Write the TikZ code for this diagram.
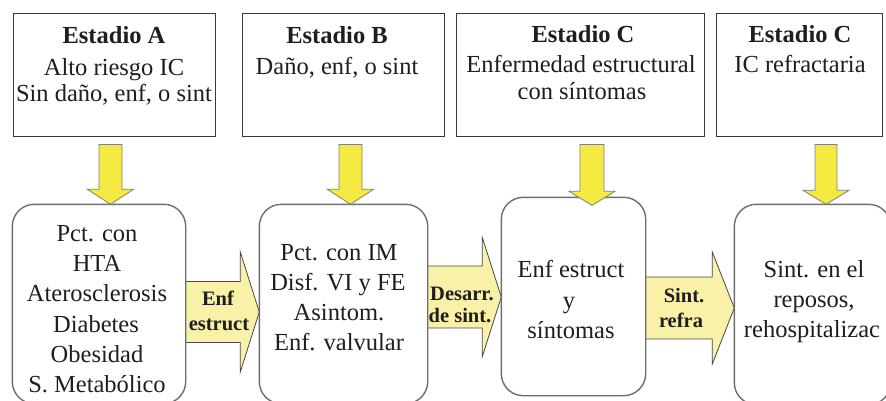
\documentclass[tikz,border=0pt]{standalone}
\usepackage{fontspec}
\setmainfont{Liberation Serif}
\usetikzlibrary{calc}
\definecolor{txt}{HTML}{1E1E1E}
\definecolor{yel}{HTML}{F4EA42}
\definecolor{yelpale}{HTML}{FAF1A8}
\definecolor{boxline}{HTML}{6E6E6E}
\newcommand{\harrow}[6]{%
  \path[horarr] let \p1=(#1), \p2=(#2), \p3=(0,#3) in
   (\x1-3pt,\y3+#4pt) -- (\x2-#6pt,\y3+#4pt) -- (\x2-#6pt,\y3+#5pt) -- (\x2,\y3)
   -- (\x2-#6pt,\y3-#5pt) -- (\x2-#6pt,\y3-#4pt) -- (\x1-3pt,\y3-#4pt) -- cycle;}
\newcommand{\varrow}[7]{%
  \path[downarr] let \p1=(#1), \p2=(#2), \p3=(#3,0) in
   (\x3-#4pt,\y1-8pt) -- (\x3+#4pt,\y1-8pt) -- (\x3+#4pt,\y2+#6pt-#7pt)
   -- (\x3+#5pt,\y2+#6pt-#7pt) -- (\x3,\y2-#7pt) -- (\x3-#5pt,\y2+#6pt-#7pt)
   -- (\x3-#4pt,\y2+#6pt-#7pt) -- cycle;}
\begin{document}
\begin{tikzpicture}[x=1pt,y=-1pt,
  topbox/.style={draw=black!78, line width=0.9pt, fill=white, inner sep=0pt},
  roundbox/.style={draw=boxline, line width=1.4pt, rounded corners=22pt, fill=white, inner sep=0pt},
  ln/.style={anchor=base, inner sep=0pt, text=txt, font=\fontsize{24.5}{29}\selectfont},
  ttl/.style={anchor=base, inner sep=0pt, text=txt, font=\fontsize{24.5}{29}\selectfont\bfseries},
  lbl/.style={anchor=base, inner sep=0pt, text=txt, font=\fontsize{20.5}{22}\selectfont\bfseries},
  downarr/.style={fill=yel, draw=black!50, line width=0.8pt, line join=miter},
  horarr/.style={fill=yelpale, draw=black!72, line width=0.8pt, line join=miter}]
\useasboundingbox (0,0) rectangle (886,401);
\fill[white] (0,0) rectangle (886,401);
\clip (0,0) rectangle (886,401);

% top boxes
\node[topbox, minimum width=202pt, minimum height=123pt] (tA) at (114,74.5) {};
\node[topbox, minimum width=202pt, minimum height=123pt] (tB) at (343,74.5) {};
\node[topbox, minimum width=248pt, minimum height=123pt] (tC) at (580,74.5) {};
\node[topbox, minimum width=166pt, minimum height=123pt] (tD) at (799,74.5) {};

\node[ttl] (tA1) at (114,44) {Estadio A};
\node[ln]  (tA2) at (114,76) {Alto riesgo IC};
\node[ln]  (tA3) at (114,102) {Sin daño, enf, o sint};
\node[ttl] (tB1) at (337,44) {Estadio B};
\node[ln]  (tB2) at (337,75) {Daño, enf, o sint};
\node[ttl] (tC1) at (583,43) {Estadio C};
\node[ln]  (tC2) at (581,73) {Enfermedad estructural};
\node[ln]  (tC3) at (582,100) {con síntomas};
\node[ttl] (tD1) at (800,43) {Estadio C};
\node[ln]  (tD2) at (800,73) {IC refractaria};

% bottom boxes (centres and sizes)
\coordinate (cA) at (99,304);
\coordinate (cB) at (343.5,304);
\coordinate (cC) at (573.5,296.5);
\coordinate (cD) at (812.5,304.5);

% horizontal arrows (behind boxes)
\node[roundbox, minimum width=172pt, minimum height=198pt, draw=none, fill=none] (bA) at (cA) {};
\node[roundbox, minimum width=167pt, minimum height=198pt, draw=none, fill=none] (bB) at (cB) {};
\node[roundbox, minimum width=143pt, minimum height=197pt, draw=none, fill=none] (bC) at (cC) {};
\node[roundbox, minimum width=155pt, minimum height=199pt, draw=none, fill=none] (bD) at (cD) {};

\harrow{bA.east}{bB.west}{312}{30.5}{60}{19}
\harrow{bB.east}{bC.west}{297}{31}{59.5}{19}
\harrow{bC.east}{bD.west}{308}{31}{56}{22}

\draw[roundbox] (bA.south west) rectangle (bA.north east);
\draw[roundbox] (bB.south west) rectangle (bB.north east);
\draw[roundbox] (bC.south west) rectangle (bC.north east);
\draw[roundbox] (bD.south west) rectangle (bD.north east);

% down arrows
\varrow{tA.south}{bA.north}{110.5}{11.5}{23}{15}{0}
\varrow{tB.south}{bB.north}{350.5}{11.5}{23}{15}{0}
\varrow{tC.south}{bC.north}{592}{12}{23}{14}{8}
\varrow{tD.south}{bD.north}{826}{11}{23}{14}{0}

% bottom texts
\node[ln] (bA1) at (97,241) {Pct. con};
\node[ln] (bA2) at (97,271) {HTA};
\node[ln] (bA3) at (97,301) {Aterosclerosis};
\node[ln] (bA4) at (96,332) {Diabetes};
\node[ln] (bA5) at (97,362) {Obesidad};
\node[ln] (bA6) at (97,392) {S. Metabólico};

\node[ln] (bB1) at (339,260) {Pct. con IM};
\node[ln] (bB2) at (338,290) {Disf. VI y FE};
\node[ln] (bB3) at (339,320) {Asintom.};
\node[ln] (bB4) at (339,350) {Enf. valvular};

\node[ln] (bC1) at (571,277) {Enf estruct};
\node[ln] (bC2) at (569,308) {y};
\node[ln] (bC3) at (571,338) {síntomas};

\node[ln] (bD1) at (814,277) {Sint. en el};
\node[ln] (bD2) at (814,307) {reposos,};
\node[ln] (bD3) at (812,337) {rehospitalizac};

% arrow labels
\node[lbl] (l1a) at (218,305) {Enf};
\node[lbl] (l1b) at (219,330) {estruct};
\node[lbl] (l2a) at (462,300) {Desarr.};
\node[lbl] (l2b) at (460,322) {de sint.};
\node[lbl] (l3a) at (684,302) {Sint.};
\node[lbl] (l3b) at (681,327) {refra};
\end{tikzpicture}
\end{document}
